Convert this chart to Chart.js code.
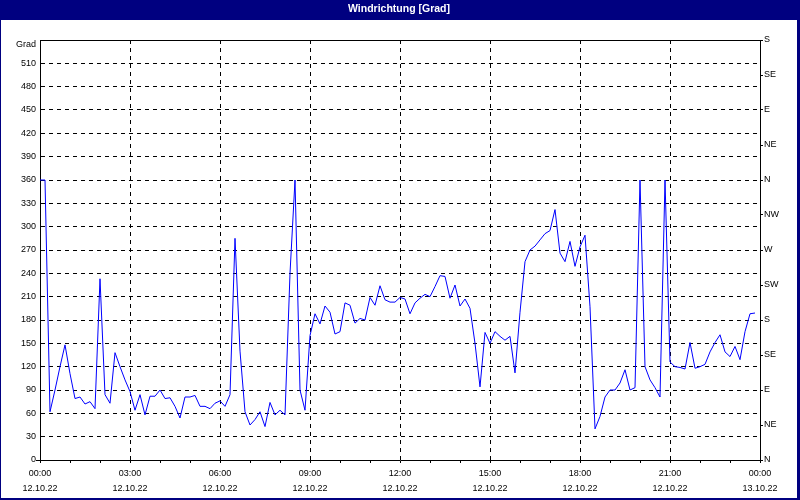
<!DOCTYPE html>
<html>
<head>
<meta charset="utf-8">
<script src="https://cdn.jsdelivr.net/npm/chart.js@4/dist/chart.umd.min.js"></script>
<style>
html,body{margin:0;padding:0;background:#fff;}
#c{display:block;}
</style>
</head>
<body>
<canvas id="c" width="800" height="500"></canvas>
<script>
// ---- data ----
const chartTitle = 'Windrichtung [Grad]';
const yUnit = 'Grad';
const times = [
 "00:00","00:10","00:20","00:30","00:40","00:50",
 "01:00","01:10","01:20","01:30","01:40","01:50",
 "02:00","02:10","02:20","02:30","02:40","02:50",
 "03:00","03:10","03:20","03:30","03:40","03:50",
 "04:00","04:10","04:20","04:30","04:40","04:50",
 "05:00","05:10","05:20","05:30","05:40","05:50",
 "06:00","06:10","06:20","06:30","06:40","06:50",
 "07:00","07:10","07:20","07:30","07:40","07:50",
 "08:00","08:10","08:20","08:30","08:40","08:50",
 "09:00","09:10","09:20","09:30","09:40","09:50",
 "10:00","10:10","10:20","10:30","10:40","10:50",
 "11:00","11:10","11:20","11:30","11:40","11:50",
 "12:00","12:10","12:20","12:30","12:40","12:50",
 "13:00","13:10","13:20","13:30","13:40","13:50",
 "14:00","14:10","14:20","14:30","14:40","14:50",
 "15:00","15:10","15:20","15:30","15:40","15:50",
 "16:00","16:10","16:20","16:30","16:40","16:50",
 "17:00","17:10","17:20","17:30","17:40","17:50",
 "18:00","18:10","18:20","18:30","18:40","18:50",
 "19:00","19:10","19:20","19:30","19:40","19:50",
 "20:00","20:10","20:20","20:30","20:40","20:50",
 "21:00","21:10","21:20","21:30","21:40","21:50",
 "22:00","22:10","22:20","22:30","22:40","22:50",
 "23:00","23:10","23:20","23:30","23:40","23:50"
];
const direction = [
 360,360,62,90,120,148,
 111,79,81,72,75,66,
 233,84,73,138,120,103,
 88,64,84,58,82,82,
 90,79,80,69,54,81,
 81,83,69,69,66,73,
 76,69,84,285,140,62,
 45,52,62,43,74,58,
 64,58,240,360,90,64,
 160,188,175,198,190,162,
 165,202,199,176,182,180,
 209,199,224,206,203,203,
 209,207,188,202,208,213,
 210,223,237,236,208,225,
 198,207,195,150,94,164,
 150,165,159,154,159,112,
 190,255,270,275,283,291,
 295,322,266,255,281,249,
 274,289,197,40,56,81,
 90,90,99,116,90,93,
 360,120,103,93,81,360,
 126,120,119,117,151,118,
 120,123,139,151,161,139,
 133,146,129,165,188,189
];
const tickTimes = ["00:00","03:00","06:00","09:00","12:00","15:00","18:00","21:00","00:00"];
const tickDates = ["12.10.22","12.10.22","12.10.22","12.10.22","12.10.22","12.10.22","12.10.22","12.10.22","13.10.22"];
const compass = ["N","NE","E","SE","S","SW","W","NW","N","NE","E","SE","S"];

// ---- chart ----
const toHours = s => { const p = s.split(':').map(Number); return p[0] + p[1] / 60; };
const points = direction.map((v, i) => ({x: toHours(times[i]), y: v}));

const NAVY = '#000080';
const tickFont = {family: 'Liberation Sans', size: 9, lineHeight: 1.1};

const framePlugin = {
  id: 'frame',
  beforeDraw(chart) {
    const ctx = chart.ctx;
    ctx.save();
    ctx.fillStyle = '#ffffff';
    ctx.fillRect(0, 0, chart.width, chart.height);
    ctx.fillStyle = NAVY;
    ctx.fillRect(0, 0, chart.width, 20);
    ctx.fillRect(0, 20, 1, chart.height - 20);
    ctx.fillRect(chart.width - 3, 20, 3, chart.height - 20);
    ctx.fillRect(0, chart.height - 2, chart.width, 2);
    ctx.restore();
  },
  afterDraw(chart) {
    const a = chart.chartArea, ctx = chart.ctx;
    ctx.save();
    ctx.strokeStyle = '#000';
    ctx.lineWidth = 1;
    ctx.beginPath();
    ctx.moveTo(a.left, Math.round(a.top) + 0.5);
    ctx.lineTo(a.right + 1, Math.round(a.top) + 0.5);
    ctx.moveTo(a.left - 4, Math.round(a.bottom) + 0.5);
    ctx.lineTo(a.left, Math.round(a.bottom) + 0.5);
    ctx.stroke();
    ctx.restore();
  }
};

new Chart(document.getElementById('c'), {
  type: 'line',
  data: {
    datasets: [{
      data: points,
      borderColor: '#0000ff',
      borderWidth: 1,
      pointRadius: 0,
      tension: 0,
      fill: false
    }]
  },
  options: {
    responsive: false,
    animation: false,
    events: [],
    layout: {padding: {left: 1, right: 3, top: 0, bottom: 2}},
    plugins: {
      legend: {display: false},
      tooltip: {enabled: false},
      title: {
        display: true,
        text: chartTitle,
        color: '#ffffff',
        font: {family: 'Liberation Sans', size: 10.5, weight: 'bold', lineHeight: 1.2},
        padding: {top: 3, bottom: 24.4}
      }
    },
    scales: {
      x: {
        type: 'linear',
        min: 0, max: 24,
        afterFit: s => { s.height = 38; },
        ticks: {
          stepSize: 1,
          autoSkip: false,
          maxRotation: 0, minRotation: 0,
          padding: 2.75,
          color: '#000',
          font: {family: 'Liberation Sans', size: 9, lineHeight: 1.72},
          callback: v => (v % 3 === 0) ? [tickTimes[v / 3], tickDates[v / 3]] : ''
        },
        grid: {
          color: c => (c.tick && c.tick.value % 3 === 0 && c.tick.value !== 0 && c.tick.value !== 24) ? '#000' : 'rgba(0,0,0,0)',
          tickColor: '#000',
          tickLength: 3,
          tickBorderDash: [],
          lineWidth: 1
        },
        border: {display: true, color: '#000', width: 1, dash: [4, 4]}
      },
      y: {
        type: 'linear',
        position: 'left',
        min: 0, max: 540,
        afterFit: s => { s.width = 39; },
        ticks: {
          stepSize: 30,
          autoSkip: false,
          padding: 4,
          color: '#000',
          font: c => (c.tick && c.tick.value === 540) ? {family: 'Liberation Sans', size: 9, lineHeight: '10px'} : tickFont,
          callback: v => v === 540 ? ['', yUnit] : String(v)
        },
        grid: {
          drawTicks: false,
          color: c => (c.tick && c.tick.value !== 0 && c.tick.value !== 540) ? '#000' : 'rgba(0,0,0,0)',
          lineWidth: 1
        },
        border: {display: true, color: '#000', width: 1, dash: [4, 4]}
      },
      y2: {
        type: 'linear',
        position: 'right',
        min: 0, max: 540,
        afterFit: s => { s.width = 37; },
        ticks: {
          stepSize: 45,
          autoSkip: false,
          padding: 1,
          color: '#000',
          font: tickFont,
          callback: v => compass[Math.round(v / 45)]
        },
        grid: {
          drawOnChartArea: false,
          drawTicks: true,
          tickLength: 3,
          tickColor: '#000',
          tickBorderDash: []
        },
        border: {display: true, color: '#000', width: 1}
      }
    }
  },
  plugins: [framePlugin]
});
</script>
</body>
</html>
